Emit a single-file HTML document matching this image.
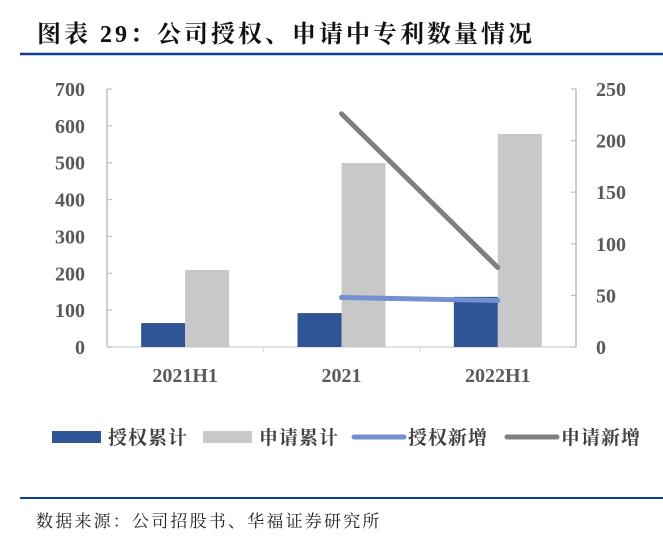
<!DOCTYPE html>
<html><head><meta charset="utf-8"><style>
body{margin:0;background:#fff;width:663px;height:539px;overflow:hidden;font-family:"Liberation Serif","Noto Serif CJK SC",serif}
svg text{font-family:"Liberation Serif","Noto Serif CJK SC",serif}
</style></head><body>
<svg id="c" width="663" height="539">
<text x="37" y="42" font-size="24" letter-spacing="3" font-weight="bold" fill="#111" font-family="'Noto Sans CJK SC',sans-serif">图表 29：公司授权、申请中专利数量情况</text>
<line x1="20" y1="54" x2="663" y2="54" stroke="#0b3f91" stroke-width="2.5"/>
<line x1="20" y1="498" x2="663" y2="498" stroke="#0b3f91" stroke-width="2"/>
<text x="36" y="527" font-size="17" letter-spacing="2.2" fill="#222" font-family="'Noto Serif CJK SC',serif">数据来源：公司招股书、华福证券研究所</text>
<g id="plot"></g>
<g id="legend"></g>
</svg>
<script>
const categories=["2021H1","2021","2022H1"];
const grantTotal=[65,92,136];
const applyTotal=[209,499,578];
const grantNew=[null,48,45];
const applyNew=[null,226,77];
const leftTicks=[0,100,200,300,400,500,600,700];
const rightTicks=[0,50,100,150,200,250];
const NS="http://www.w3.org/2000/svg";
const g=document.getElementById('plot');
const L=107,R=576,T=89,B=347;
const yl=v=>B-(v/700)*(B-T), yr=v=>B-(v/250)*(B-T);
const bw=(R-L)/categories.length, xc=i=>L+bw*(i+0.5);
function mk(t,a,p){const e=document.createElementNS(NS,t);for(const k in a)e.setAttribute(k,a[k]);(p||g).appendChild(e);return e;}
let e;
e=mk('line',{x1:L,y1:T,x2:L,y2:B,stroke:'#bfbfbf','stroke-width':1.5});


e=mk('line',{x1:R,y1:T,x2:R,y2:B,stroke:'#bfbfbf','stroke-width':1.5});


e=mk('line',{x1:L,y1:B,x2:R,y2:B,stroke:'#d9d9d9','stroke-width':1.5});


leftTicks.forEach(v=>{
 mk('line',{x1:L,y1:yl(v),x2:L+5,y2:yl(v),stroke:'#bfbfbf','stroke-width':1.2});
 e=mk('text',{x:85,y:yl(v)+7,'text-anchor':'end','font-size':20,'font-weight':'bold',fill:'#595959'});
 e.textContent=v;
 
 
});
rightTicks.forEach(v=>{
 mk('line',{x1:R-5,y1:yr(v),x2:R,y2:yr(v),stroke:'#bfbfbf','stroke-width':1.2});
 e=mk('text',{x:596,y:yr(v)+7,'text-anchor':'start','font-size':20,'font-weight':'bold',fill:'#595959'});
 e.textContent=v;
 
 
});
for(let i=1;i<categories.length;i++)mk('line',{x1:L+bw*i,y1:B,x2:L+bw*i,y2:B+5,stroke:'#d9d9d9','stroke-width':1.2});
categories.forEach((c,i)=>{
 const x=xc(i),w=44;
 e=mk('rect',{x:x-w,y:yl(grantTotal[i]),width:w,height:B-yl(grantTotal[i]),fill:'#2f5597'});
 
 
 e=mk('rect',{x:x,y:yl(applyTotal[i]),width:w,height:B-yl(applyTotal[i]),fill:'#c8c8c8'});
 
 
 e=mk('text',{x:x,y:382,'text-anchor':'middle','font-size':20,'font-weight':'bold',fill:'#595959'});
 e.textContent=c;
 
 
});
function line(arr,col,name){
 const pts=[];arr.forEach((v,i)=>{if(v!==null)pts.push(xc(i)+','+yr(v));});
 const p=mk('polyline',{points:pts.join(' '),fill:'none',stroke:col,'stroke-width':5,'stroke-linecap':'round'});
 
 
}
line(applyNew,'#7f7f7f','line-apply-new');
line(grantNew,'#7490d0','line-grant-new');
const lg=document.getElementById('legend');
const items=[["rect","#2f5597",52,"授权累计","legend-grant-total"],["rect","#c8c8c8",203,"申请累计","legend-apply-total"],["line","#7490d0",352,"授权新增","legend-grant-new"],["line","#7f7f7f",505,"申请新增","legend-apply-new"]];
items.forEach(it=>{
 const grp=mk('g',{},lg);
 
 
 if(it[0]=='rect')mk('rect',{x:it[2],y:431,width:49,height:12,fill:it[1]},grp);
 else mk('line',{x1:it[2]+2,y1:437,x2:it[2]+52,y2:437,stroke:it[1],'stroke-width':5,'stroke-linecap':'round'},grp);
 const t=mk('text',{x:it[2]+56,y:444,'font-size':19,'font-weight':'bold',fill:'#404040','letter-spacing':1,'font-family':"'Noto Serif CJK SC',serif"},grp);
 t.textContent=it[3];
});
</script>
</body></html>
